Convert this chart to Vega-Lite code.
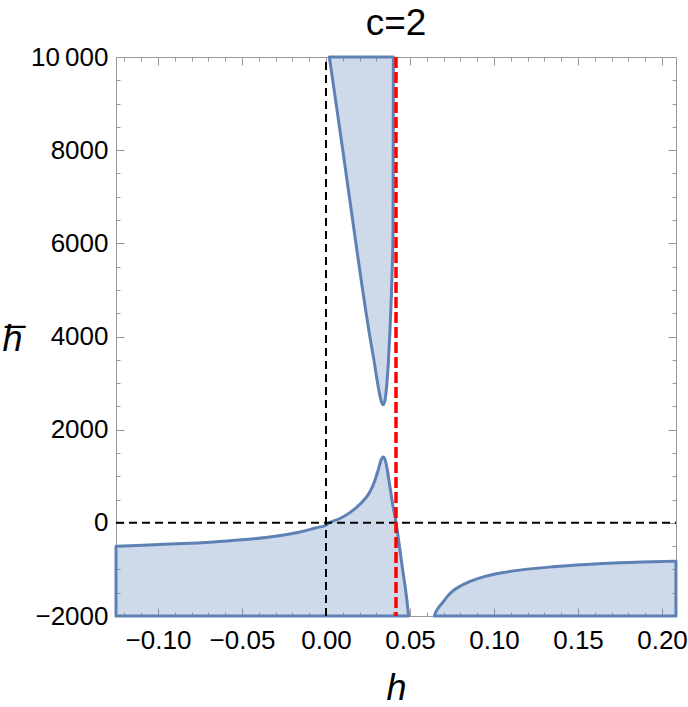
{
  "$schema": "https://vega.github.io/schema/vega-lite/v6.json",
  "width": 560,
  "height": 559,
  "autosize": "none",
  "padding": {"left": 116, "top": 57, "right": 12, "bottom": 91},
  "background": "white",
  "title": {"text": "c=2", "font": "Liberation Sans", "fontSize": 37, "fontWeight": "normal", "color": "black", "offset": 1},
  "config": {
    "view": {"stroke": null},
    "axis": {"domainColor": "#999999", "tickColor": "#999999", "labelColor": "black", "labelFont": "Liberation Sans", "labelFontSize": 26, "titleFont": "Liberation Sans", "titleColor": "black", "titleFontWeight": "normal", "grid": false, "zindex": 1, "labelOverlap": false, "labelFlush": false, "labelBound": false}
  },
  "layer": [
    {
      "data": {"values": [
        {"region": "L", "h": -0.125, "lo": -2000, "hi": -505},
        {"region": "L", "h": -0.109, "lo": -2000, "hi": -479},
        {"region": "L", "h": -0.089, "lo": -2000, "hi": -450},
        {"region": "L", "h": -0.069, "lo": -2000, "hi": -415},
        {"region": "L", "h": -0.050, "lo": -2000, "hi": -365},
        {"region": "L", "h": -0.030, "lo": -2000, "hi": -286},
        {"region": "L", "h": -0.016, "lo": -2000, "hi": -201},
        {"region": "L", "h": -0.006, "lo": -2000, "hi": -107},
        {"region": "L", "h": 0.000, "lo": -2000, "hi": -51},
        {"region": "L", "h": 0.002, "lo": -2000, "hi": 0},
        {"region": "L", "h": 0.008, "lo": -2000, "hi": 88},
        {"region": "L", "h": 0.014, "lo": -2000, "hi": 214},
        {"region": "L", "h": 0.020, "lo": -2000, "hi": 392},
        {"region": "L", "h": 0.026, "lo": -2000, "hi": 656},
        {"region": "L", "h": 0.029, "lo": -2000, "hi": 900},
        {"region": "L", "h": 0.0312, "lo": -2000, "hi": 1150},
        {"region": "L", "h": 0.0327, "lo": -2000, "hi": 1340},
        {"region": "L", "h": 0.0335, "lo": -2000, "hi": 1400},
        {"region": "L", "h": 0.0341, "lo": -2000, "hi": 1414},
        {"region": "L", "h": 0.0348, "lo": -2000, "hi": 1390},
        {"region": "L", "h": 0.0357, "lo": -2000, "hi": 1286},
        {"region": "L", "h": 0.0377, "lo": -2000, "hi": 857},
        {"region": "L", "h": 0.0397, "lo": -2000, "hi": 392},
        {"region": "L", "h": 0.0417, "lo": -2000, "hi": 0},
        {"region": "L", "h": 0.0437, "lo": -2000, "hi": -500},
        {"region": "L", "h": 0.0456, "lo": -2000, "hi": -1000},
        {"region": "L", "h": 0.0476, "lo": -2000, "hi": -1500},
        {"region": "L", "h": 0.0492, "lo": -2000, "hi": -2000},
        {"region": "R", "h": 0.0645, "lo": -2000, "hi": -2000},
        {"region": "R", "h": 0.0652, "lo": -2000, "hi": -1930},
        {"region": "R", "h": 0.0665, "lo": -2000, "hi": -1845},
        {"region": "R", "h": 0.0694, "lo": -2000, "hi": -1714},
        {"region": "R", "h": 0.0720, "lo": -2000, "hi": -1590},
        {"region": "R", "h": 0.0754, "lo": -2000, "hi": -1465},
        {"region": "R", "h": 0.0800, "lo": -2000, "hi": -1355},
        {"region": "R", "h": 0.0853, "lo": -2000, "hi": -1264},
        {"region": "R", "h": 0.0952, "lo": -2000, "hi": -1143},
        {"region": "R", "h": 0.1050, "lo": -2000, "hi": -1070},
        {"region": "R", "h": 0.1151, "lo": -2000, "hi": -1015},
        {"region": "R", "h": 0.1349, "lo": -2000, "hi": -943},
        {"region": "R", "h": 0.1548, "lo": -2000, "hi": -893},
        {"region": "R", "h": 0.1746, "lo": -2000, "hi": -857},
        {"region": "R", "h": 0.1944, "lo": -2000, "hi": -836},
        {"region": "R", "h": 0.2083, "lo": -2000, "hi": -822},
        {"region": "U", "h": 0.0020, "lo": 10000, "hi": 10000},
        {"region": "U", "h": 0.0060, "lo": 9000, "hi": 10000},
        {"region": "U", "h": 0.0100, "lo": 8000, "hi": 10000},
        {"region": "U", "h": 0.0139, "lo": 7000, "hi": 10000},
        {"region": "U", "h": 0.0178, "lo": 6000, "hi": 10000},
        {"region": "U", "h": 0.0218, "lo": 5000, "hi": 10000},
        {"region": "U", "h": 0.0239, "lo": 4500, "hi": 10000},
        {"region": "U", "h": 0.0261, "lo": 4000, "hi": 10000},
        {"region": "U", "h": 0.0285, "lo": 3500, "hi": 10000},
        {"region": "U", "h": 0.0307, "lo": 3000, "hi": 10000},
        {"region": "U", "h": 0.0317, "lo": 2800, "hi": 10000},
        {"region": "U", "h": 0.0326, "lo": 2650, "hi": 10000},
        {"region": "U", "h": 0.0333, "lo": 2570, "hi": 10000},
        {"region": "U", "h": 0.0340, "lo": 2535, "hi": 10000},
        {"region": "U", "h": 0.0347, "lo": 2570, "hi": 10000},
        {"region": "U", "h": 0.0357, "lo": 2785, "hi": 10000},
        {"region": "U", "h": 0.0371, "lo": 3428, "hi": 10000},
        {"region": "U", "h": 0.0381, "lo": 4142, "hi": 10000},
        {"region": "U", "h": 0.0389, "lo": 4856, "hi": 10000},
        {"region": "U", "h": 0.0395, "lo": 5571, "hi": 10000},
        {"region": "U", "h": 0.0399, "lo": 6285, "hi": 10000},
        {"region": "U", "h": 0.0400, "lo": 8000, "hi": 10000},
        {"region": "U", "h": 0.0401, "lo": 10000, "hi": 10000}
      ]},
      "mark": {"type": "area", "interpolate": "monotone", "fill": "#5e81b5", "fillOpacity": 0.3, "stroke": "#5e81b5", "strokeWidth": 3, "strokeJoin": "round"},
      "encoding": {
        "x": {"field": "h", "type": "quantitative", "scale": {"domain": [-0.125, 0.2083333], "nice": false, "zero": false},
          "axis": {"orient": "bottom",
            "values": [-0.12,-0.11,-0.1,-0.09,-0.08,-0.07,-0.06,-0.05,-0.04,-0.03,-0.02,-0.01,0,0.01,0.02,0.03,0.04,0.05,0.06,0.07,0.08,0.09,0.1,0.11,0.12,0.13,0.14,0.15,0.16,0.17,0.18,0.19,0.2],
            "tickSize": {"condition": {"test": "abs(round(datum.value*100)) % 5 == 0", "value": -8}, "value": -4},
            "labelExpr": "abs(round(datum.value*100)) % 5 == 0 ? format(datum.value, '.2f') : ''",
            "labelPadding": 19,
            "title": "h", "titleFontSize": 36, "titleFontStyle": "italic", "titleAngle": 0, "titleAlign": "center", "titleBaseline": "alphabetic", "titleX": 280, "titleY": 83}},
        "y": {"field": "hi", "type": "quantitative", "scale": {"domain": [-2000, 10000], "nice": false, "zero": false},
          "axis": {"orient": "left",
            "values": [-2000,-1500,-1000,-500,0,500,1000,1500,2000,2500,3000,3500,4000,4500,5000,5500,6000,6500,7000,7500,8000,8500,9000,9500,10000],
            "tickSize": {"condition": {"test": "datum.value % 2000 == 0", "value": -8}, "value": -4},
            "labelExpr": "datum.value == 10000 ? '10\u2009000' : (datum.value % 2000 == 0 ? format(datum.value, 'd') : '')",
            "labelPadding": 16,
            "title": "h\u0305", "titleFontSize": 36, "titleFontStyle": "italic", "titleAngle": 0, "titleAlign": "center", "titleBaseline": "alphabetic", "titleX": -104, "titleY": 293}},
        "y2": {"field": "lo"},
        "detail": {"field": "region"}
      }
    },
    {
      "data": {"values": [
        {"x": 0, "x2": 0, "y": -2000, "y2": 10000},
        {"x": -0.125, "x2": 0.2083333, "y": 0, "y2": 0}
      ]},
      "mark": {"type": "rule", "color": "black", "strokeWidth": 2, "strokeDash": [8, 5]},
      "encoding": {
        "x": {"field": "x", "type": "quantitative",
          "axis": {"orient": "top",
            "values": [-0.12,-0.11,-0.1,-0.09,-0.08,-0.07,-0.06,-0.05,-0.04,-0.03,-0.02,-0.01,0,0.01,0.02,0.03,0.04,0.05,0.06,0.07,0.08,0.09,0.1,0.11,0.12,0.13,0.14,0.15,0.16,0.17,0.18,0.19,0.2],
            "tickSize": {"condition": {"test": "abs(round(datum.value*100)) % 5 == 0", "value": -8}, "value": -4},
            "labels": false, "title": null}},
        "x2": {"field": "x2"},
        "y": {"field": "y", "type": "quantitative",
          "axis": {"orient": "right",
            "values": [-2000,-1500,-1000,-500,0,500,1000,1500,2000,2500,3000,3500,4000,4500,5000,5500,6000,6500,7000,7500,8000,8500,9000,9500,10000],
            "tickSize": {"condition": {"test": "datum.value % 2000 == 0", "value": -8}, "value": -4},
            "labels": false, "title": null}},
        "y2": {"field": "y2"}
      }
    },
    {
      "data": {"values": [{"h": 0.0416667}]},
      "mark": {"type": "rule", "color": "#ff0000", "strokeWidth": 3.5, "strokeDash": [11, 4]},
      "encoding": {
        "x": {"field": "h", "type": "quantitative", "axis": null}
      }
    }
  ],
  "resolve": {"axis": {"x": "independent", "y": "independent"}}
}
